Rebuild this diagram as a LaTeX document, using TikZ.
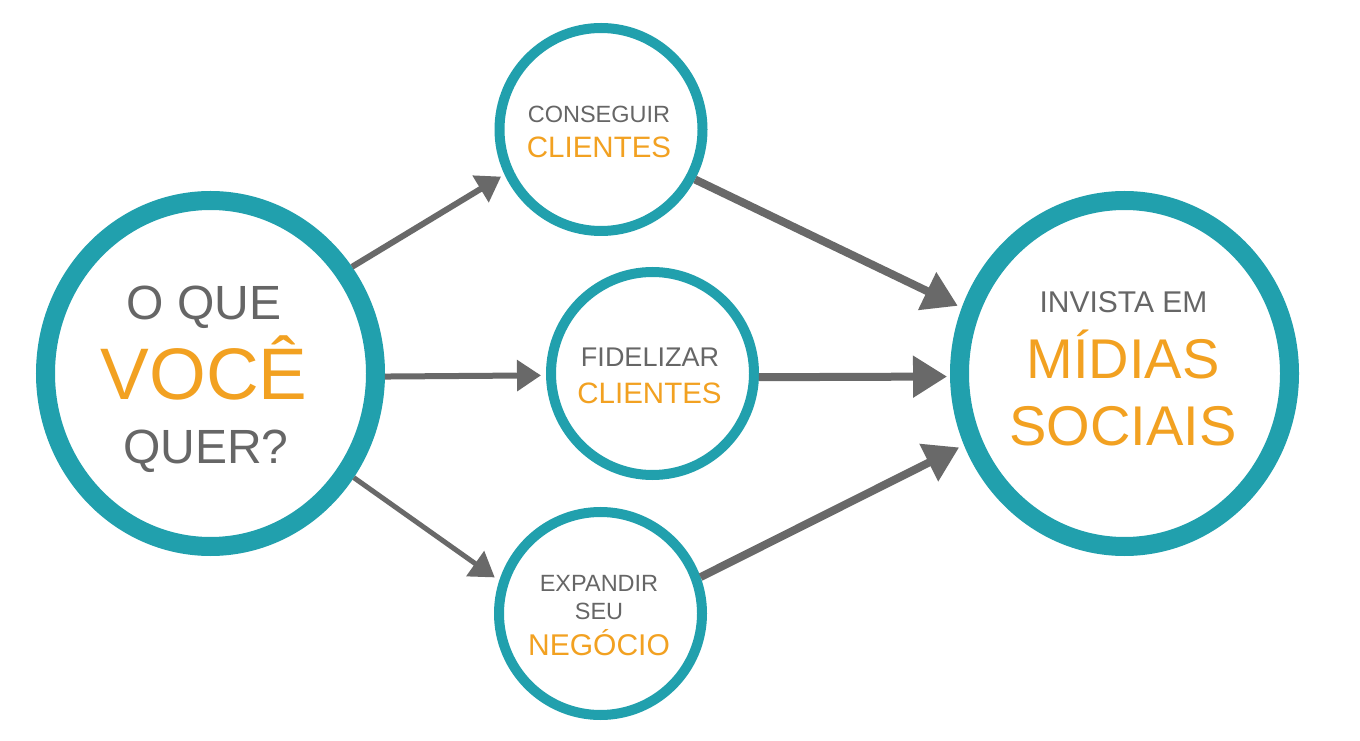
\documentclass[tikz,border=0pt]{standalone}
\usepackage{fontspec}
\setmainfont{Liberation Sans}
\usetikzlibrary{shapes.geometric,arrows.meta,calc}
\definecolor{ringteal}{RGB}{33,160,173}
\definecolor{txtorange}{RGB}{242,161,33}
\definecolor{txtgray}{RGB}{102,102,102}
\definecolor{arrowgray}{RGB}{105,105,105}
\tikzset{
  bigring/.style={ellipse, draw=ringteal, line width=19pt, minimum width=330pt, minimum height=346pt, inner sep=0pt},
  ring/.style={circle, draw=ringteal, line width=10pt, minimum size=203pt, inner sep=0pt},
  word/.style={inner sep=0pt, anchor=base, text=txtgray},
  keyword/.style={inner sep=0pt, anchor=base, text=txtorange},
  thinarrow/.style={draw=arrowgray, line width=6pt, -{Triangle[length=24pt,width=30pt]}},
  thickarrow/.style={draw=arrowgray, line width=8pt, -{Triangle[length=34pt,width=40pt]}}
}
\newcommand{\fsz}[1]{\fontsize{#1}{#1}\selectfont}

\begin{document}
\begin{tikzpicture}[x=1pt,y=1pt]
    \useasboundingbox[fill=white] (0,0) rectangle (1360,740);
    % circles
    \node[bigring] (voce) at (210.5,366.5) {};
    \node[ring] (conseguir) at (601,610.5) {};
    \node[ring] (fidelizar) at (652.5,366.5) {};
    \node[ring] (expandir) at (600.5,126.5) {};
    \node[bigring] (midias) at (1124.5,366.5) {};
    % texts
    \node[word, font=\fsz{48}] (oque) at ($(voce)+(-6.5,53.5)$) {O QUE};
    \node[keyword, font=\fsz{73}] (vocetxt) at ($(voce)+(-6.5,-25.5)$) {VOCÊ};
    \node[word, font=\fsz{48}] (quer) at ($(voce)+(-4.5,-89.5)$) {QUER?};
    \node[word, font=\fsz{23.5}] (consegtxt) at ($(conseguir)+(-2,6.5)$) {CONSEGUIR};
    \node[keyword, font=\fsz{29.5}] (clientes1) at ($(conseguir)+(-2,-28.5)$) {CLIENTES};
    \node[word, font=\fsz{27}] (fideltxt) at ($(fidelizar)+(-2.5,6.5)$) {FIDELIZAR};
    \node[keyword, font=\fsz{29.5}] (clientes2) at ($(fidelizar)+(-3,-29.5)$) {CLIENTES};
    \node[word, font=\fsz{23.5}] (expandtxt) at ($(expandir)+(-1.5,22.5)$) {EXPANDIR};
    \node[word, font=\fsz{23.5}] (seu) at ($(expandir)+(-1.5,-5.5)$) {SEU};
    \node[keyword, font=\fsz{30}] (negocio) at ($(expandir)+(-1.5,-41.5)$) {NEGÓCIO};
    \node[word, font=\fsz{30}] (invista) at ($(midias)+(-1,60.5)$) {INVISTA EM};
    \node[keyword, font=\fsz{56}] (midiastxt) at ($(midias)+(-1.5,-5.5)$) {MÍDIAS};
    \node[keyword, font=\fsz{56}] (sociais) at ($(midias)+(-1.5,-71.5)$) {SOCIAIS};
    % arrows
    \draw[thinarrow, shorten >=4pt] (voce.37.5) -- (conseguir.205.4);
    \draw[thinarrow, shorten >=5pt] (voce.-1.2) -- (fidelizar.181.8);
    \draw[thinarrow, line width=5pt, shorten >=5.5pt] (voce.-36.4) -- (expandir.162);
    \draw[thickarrow, shorten >=4.4pt] (conseguir.-28.2) -- (midias.158.6);
    \draw[thickarrow, shorten >=3pt] (fidelizar.-2.4) -- (midias.181.5);
    \draw[thickarrow, shorten >=5.4pt] (expandir.20.1) -- (midias.204.65);
\end{tikzpicture}
\end{document}
